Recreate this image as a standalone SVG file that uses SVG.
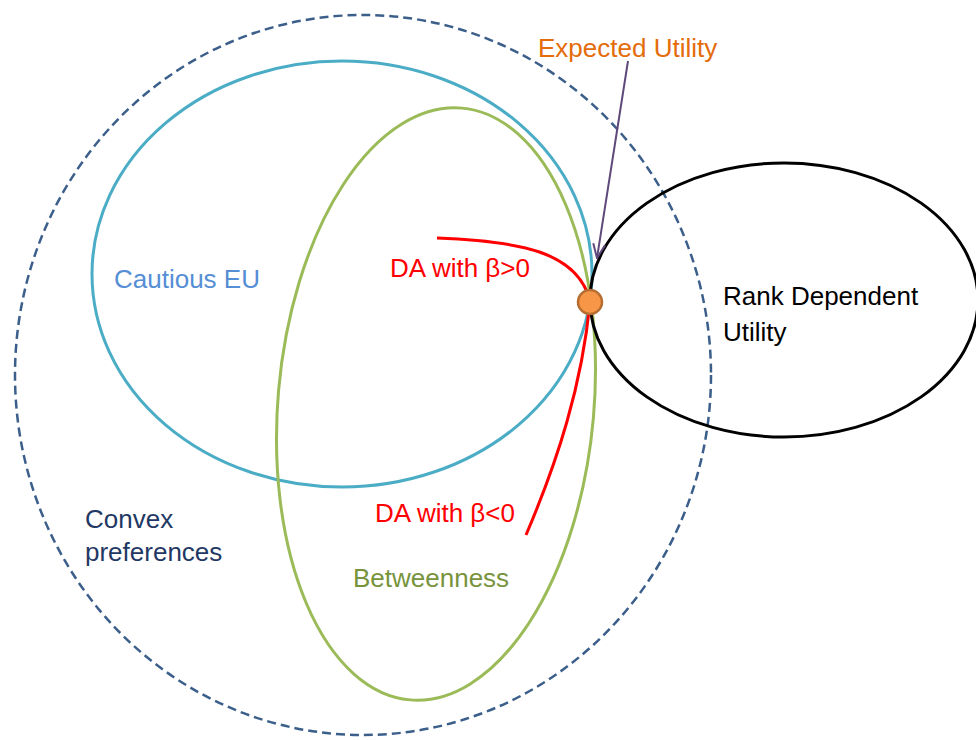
<svg xmlns="http://www.w3.org/2000/svg" width="976" height="740" viewBox="0 0 976 740">
<style>
text{font-family:"Liberation Sans",Arial,sans-serif;font-size:26px}
.set{fill:none}
</style>
<defs>
<marker id="arr" viewBox="0 0 16 16" refX="15" refY="8" markerWidth="16" markerHeight="16" markerUnits="userSpaceOnUse" orient="auto">
<path d="M1,2 L15,8 L1,14" fill="none" stroke="#5F497A" stroke-width="2"/>
</marker>
</defs>
<rect width="976" height="740" fill="#fff"/>
<g id="convex">
<ellipse class="set" cx="363" cy="375" rx="348" ry="360" stroke="#3B5F8A" stroke-width="2.5" stroke-dasharray="9 5"/>
<text x="85" y="528" fill="#1F3864">Convex</text>
<text x="85" y="561" fill="#1F3864">preferences</text>
</g>
<g id="cautious">
<ellipse class="set" cx="342" cy="274" rx="250" ry="213" stroke="#4BACC6" stroke-width="3"/>
<text x="114" y="288" fill="#558ED5">Cautious EU</text>
</g>
<g id="betweenness">
<ellipse class="set" cx="436" cy="404" rx="158" ry="297" transform="rotate(5 436 404)" stroke="#9BBB59" stroke-width="3"/>
<text x="353" y="587" fill="#77933C">Betweenness</text>
</g>
<g id="rdu">
<ellipse class="set" cx="784" cy="300" rx="194" ry="137" stroke="#000" stroke-width="3"/>
<text x="723" y="305" fill="#000">Rank Dependent</text>
<text x="723" y="341" fill="#000">Utility</text>
</g>
<g id="da-pos">
<path class="set" d="M437,238 C520,241 578,252 590,301" stroke="#FF0000" stroke-width="3"/>
<text x="390" y="277" fill="#FF0000">DA with β&gt;0</text>
</g>
<g id="da-neg">
<path class="set" d="M590,302 C582,385 558,460 526,535" stroke="#FF0000" stroke-width="3"/>
<text x="375" y="522" fill="#FF0000">DA with β&lt;0</text>
</g>
<g id="eu">
<ellipse cx="590" cy="302" rx="12" ry="12" fill="#F79646" stroke="#B66D31" stroke-width="2.5"/>
<text x="538" y="57" fill="#E46C0A">Expected Utility</text>
</g>
<g id="connectors">
<path class="set" d="M628,61 L597,258" stroke="#5F497A" stroke-width="2" marker-end="url(#arr)"/>
</g>
</svg>
